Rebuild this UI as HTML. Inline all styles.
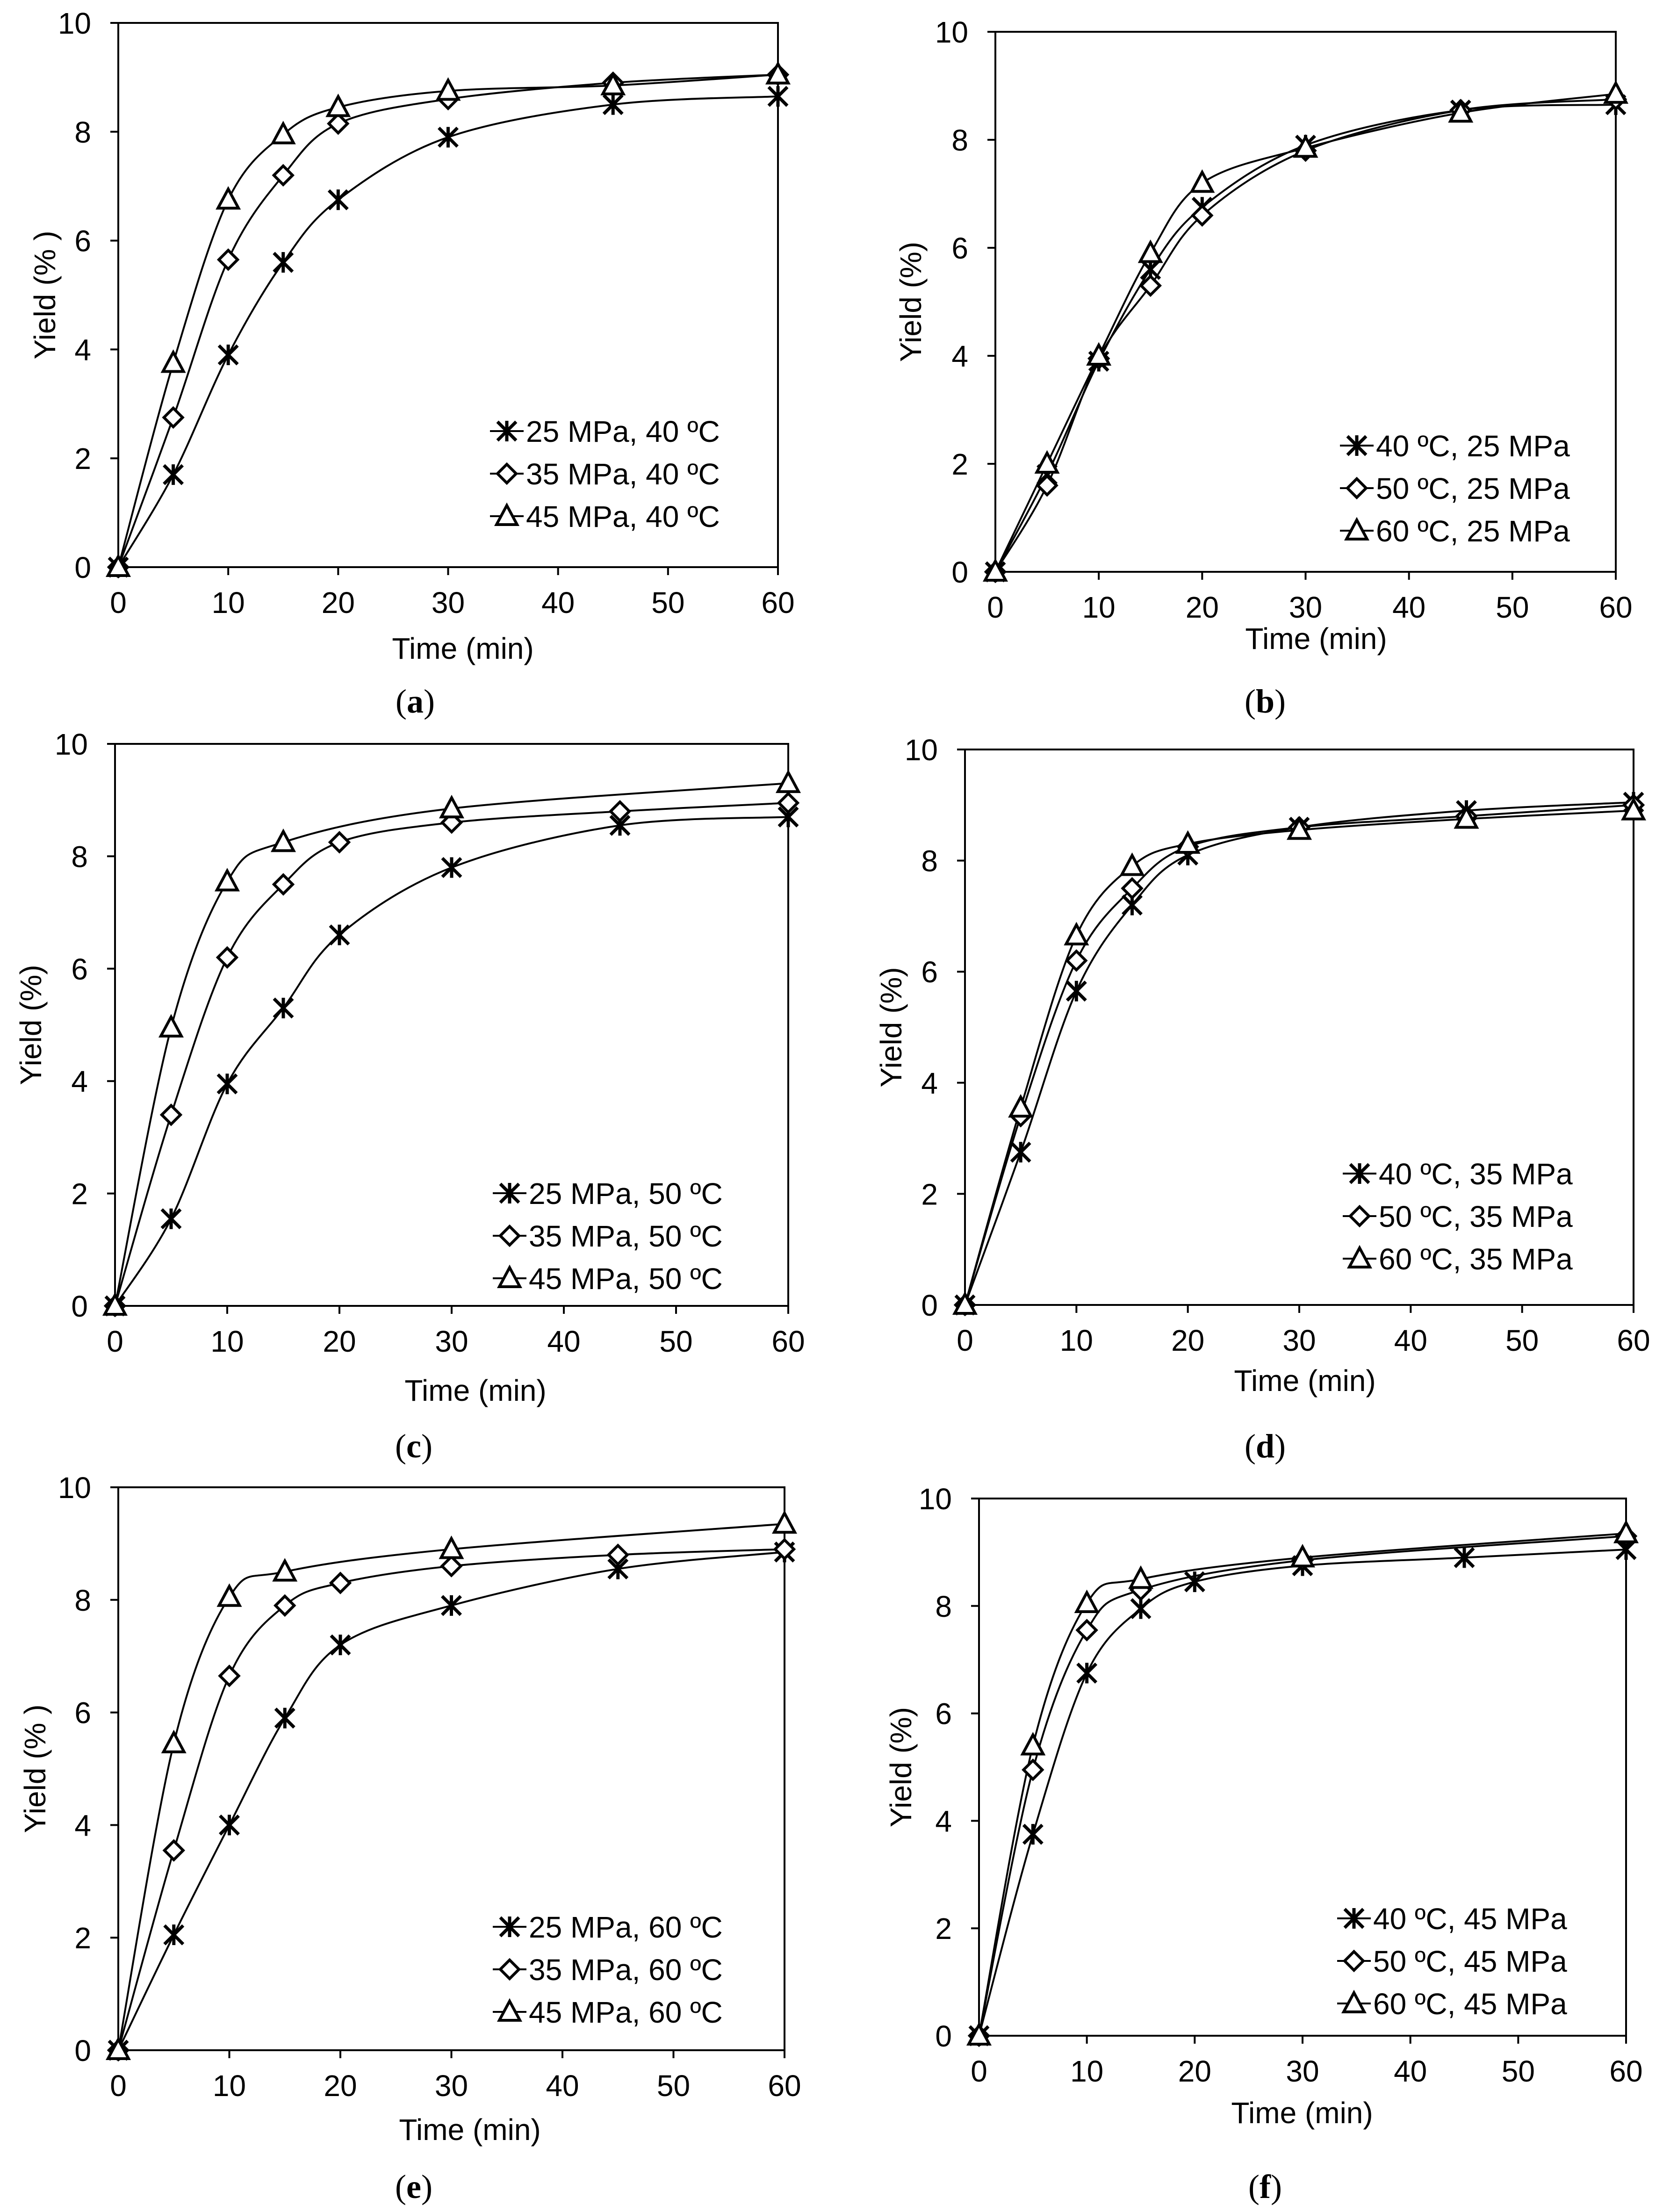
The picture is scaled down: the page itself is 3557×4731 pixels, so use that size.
<!DOCTYPE html>
<html><head><meta charset="utf-8"><style>
html,body{margin:0;padding:0;background:#fff;}
svg{display:block;}
text{font-family:"Liberation Sans",Arial,sans-serif;fill:#000;}
.pl{font-family:"Liberation Serif","Times New Roman",serif;}
</style></head><body>
<svg id="fig" width="3557" height="4731" viewBox="0 0 3557 4731" xmlns="http://www.w3.org/2000/svg"></svg>
<script>
const times = [0,5,10,15,20,30,45,60];
const xTicks = [0,10,20,30,40,50,60];
const yTicks = [0,2,4,6,8,10];
// panel a
const aS1 = [0,1.7,3.9,5.6,6.75,7.9,8.5,8.65];
const aS2 = [0,2.75,5.65,7.2,8.15,8.6,8.9,9.05];
const aS3 = [0,3.75,6.75,7.95,8.45,8.75,8.85,9.05];
// panel b
const bS1 = [0,1.8,3.9,5.6,6.75,7.9,8.55,8.65];
const bS2 = [0,1.6,3.95,5.3,6.6,7.8,8.55,8.75];
const bS3 = [0,2.0,4.0,5.9,7.2,7.85,8.5,8.85];
// panel c
const cS1 = [0,1.55,3.95,5.3,6.6,7.8,8.55,8.7];
const cS2 = [0,3.4,6.2,7.5,8.25,8.6,8.8,8.95];
const cS3 = [0,4.95,7.55,8.25,null,8.85,null,9.3];
// panel d
const dS1 = [0,2.75,5.65,7.2,8.1,8.6,8.9,9.05];
const dS2 = [0,3.4,6.2,7.5,8.25,8.6,8.8,9.0];
const dS3 = [0,3.55,6.65,7.9,8.3,8.55,8.75,8.9];
// panel e
const eS1 = [0,2.05,4.0,5.9,7.2,7.9,8.55,8.85];
const eS2 = [0,3.55,6.65,7.9,8.3,8.6,8.8,8.9];
const eS3 = [0,5.45,8.05,8.5,null,8.9,null,9.35];
// panel f
const fS1 = [0,3.75,6.75,7.95,8.45,8.75,8.9,9.05];
const fS2 = [0,4.95,7.55,8.3,null,8.85,null,9.3];
const fS3 = [0,5.4,8.05,8.5,null,8.9,null,9.35];

const aNames = ["25 MPa, 40 ºC","35 MPa, 40 ºC","45 MPa, 40 ºC"];
const bNames = ["40 ºC, 25 MPa","50 ºC, 25 MPa","60 ºC, 25 MPa"];
const cNames = ["25 MPa, 50 ºC","35 MPa, 50 ºC","45 MPa, 50 ºC"];
const dNames = ["40 ºC, 35 MPa","50 ºC, 35 MPa","60 ºC, 35 MPa"];
const eNames = ["25 MPa, 60 ºC","35 MPa, 60 ºC","45 MPa, 60 ºC"];
const fNames = ["40 ºC, 45 MPa","50 ºC, 45 MPa","60 ºC, 45 MPa"];

const NS="http://www.w3.org/2000/svg";
const svg=document.getElementById('fig');
function mk(tag,attrs,parent){const e=document.createElementNS(NS,tag);for(const k in attrs)e.setAttribute(k,attrs[k]);(parent||svg).appendChild(e);return e;}

const panels=[
 {id:'a',x0:253,x1:1664,y0:1213,y1:49,s:[aS1,aS2,aS3],n:aNames,yt:"Yield (% )",ytx:96,xt:[990,1409],lg:[1048,922],lab:[888,1500]},
 {id:'b',x0:2129,x1:3456,y0:1223,y1:68,s:[bS1,bS2,bS3],n:bNames,yt:"Yield (%)",ytx:1948,xt:[2815,1388],lg:[2866,953],lab:[2706,1500]},
 {id:'c',x0:246,x1:1686,y0:2793,y1:1591,s:[cS1,cS2,cS3],n:cNames,yt:"Yield (%)",ytx:66,xt:[1017,2996],lg:[1054,2552],lab:[885,3093]},
 {id:'d',x0:2064,x1:3494,y0:2791,y1:1603,s:[dS1,dS2,dS3],n:dNames,yt:"Yield (%)",ytx:1906,xt:[2791,2975],lg:[2872,2510],lab:[2706,3093]},
 {id:'e',x0:253,x1:1678,y0:4385,y1:3181,s:[eS1,eS2,eS3],n:eNames,yt:"Yield (% )",ytx:75,xt:[1005,4577],lg:[1054,4121],lab:[885,4677]},
 {id:'f',x0:2094,x1:3478,y0:4354,y1:3205,s:[fS1,fS2,fS3],n:fNames,yt:"Yield (%)",ytx:1927,xt:[2785,4541],lg:[2860,4103],lab:[2706,4677]}
];
const markerKinds=['star','diamond','triangle'];
function marker(kind,x,y,g){
  const r=20;
  if(kind==='star'){
    const p=mk('path',{d:`M${x-r} ${y-r}L${x+r} ${y+r}M${x-r} ${y+r}L${x+r} ${y-r}M${x} ${y-r-2}L${x} ${y+r+2}`,stroke:'#000','stroke-width':7,fill:'none'},g);
    
    
  } else if(kind==='diamond'){
    const p=mk('path',{d:`M${x} ${y-r}L${x+r} ${y}L${x} ${y+r}L${x-r} ${y}Z`,stroke:'#000','stroke-width':6,fill:'#fff'},g);
    
    
  } else {
    const p=mk('path',{d:`M${x} ${y-r-3}L${x+r+2} ${y+r-2}L${x-r-2} ${y+r-2}Z`,stroke:'#000','stroke-width':6,fill:'#fff'},g);
    
    
  }
}
function spline(pts){
  let d=`M${pts[0][0]} ${pts[0][1]}`;
  for(let i=0;i<pts.length-1;i++){
    const p0=pts[i-1]||pts[i],p1=pts[i],p2=pts[i+1],p3=pts[i+2]||p2;
    const t=0.5/3*2;
    const c1=[p1[0]+(p2[0]-p0[0])*t/2,p1[1]+(p2[1]-p0[1])*t/2];
    const c2=[p2[0]-(p3[0]-p1[0])*t/2,p2[1]-(p3[1]-p1[1])*t/2];
    d+=`C${c1[0]} ${c1[1]} ${c2[0]} ${c2[1]} ${p2[0]} ${p2[1]}`;
  }
  return d;
}
panels.forEach(P=>{
  const g=mk('g',{});
  
  
  const X=v=>P.x0+(P.x1-P.x0)*v/60;
  const Y=v=>P.y0-(P.y0-P.y1)*v/10;
  const frame=mk('rect',{x:P.x0,y:P.y1,width:P.x1-P.x0,height:P.y0-P.y1,fill:'none',stroke:'#000','stroke-width':4},g);
  
  
  xTicks.forEach(v=>{
    const t=mk('line',{x1:X(v),x2:X(v),y1:P.y0,y2:P.y0+17,stroke:'#000','stroke-width':4},g);
    
    
    const l=mk('text',{x:X(v),y:P.y0+98,'font-size':64,'text-anchor':'middle'},g);
    l.textContent=v;
    
    
  });
  yTicks.forEach(v=>{
    const t=mk('line',{x1:P.x0-17,x2:P.x0,y1:Y(v),y2:Y(v),stroke:'#000','stroke-width':4},g);
    
    
    const l=mk('text',{x:P.x0-58,y:Y(v)+23,'font-size':64,'text-anchor':'end'},g);
    l.textContent=v;
    
    
  });
  const xt=mk('text',{x:P.xt[0],y:P.xt[1],'font-size':64,'text-anchor':'middle'},g);
  xt.textContent='Time (min)';
  
  
  const yc=(P.y0+P.y1)/2;
  const yt=mk('text',{x:P.ytx,y:yc,'font-size':64,'text-anchor':'middle',transform:`rotate(-90 ${P.ytx} ${yc})`,dy:22},g);
  yt.textContent=P.yt;
  
  
  P.s.forEach((vals,si)=>{
    const pts=[];
    vals.forEach((v,i)=>{if(v!==null)pts.push([X(times[i]),Y(v)]);});
    const path=mk('path',{d:spline(pts),fill:'none',stroke:'#000','stroke-width':4},g);
    
    
  });
  P.s.forEach((vals,si)=>{
    vals.forEach((v,i)=>{if(v!==null)marker(markerKinds[si],X(times[i]),Y(v),g);});
  });
  P.n.forEach((name,si)=>{
    const ly=P.lg[1]+si*91;
    const lg=mk('g',{},g);
    
    
    mk('line',{x1:P.lg[0],x2:P.lg[0]+72,y1:ly,y2:ly,stroke:'#000','stroke-width':4},lg);
    marker(markerKinds[si],P.lg[0]+36,ly,lg);
    const t=mk('text',{x:P.lg[0]+77,y:ly+23,'font-size':64},lg);
    t.textContent=name;
  });
  const pl=mk('text',{x:P.lab[0],y:P.lab[1]+24,'font-size':72,'text-anchor':'middle',class:'pl'},g);
  pl.innerHTML='(<tspan font-weight="bold">'+P.id+'</tspan>)';
  
  
});
</script>
</body></html>
